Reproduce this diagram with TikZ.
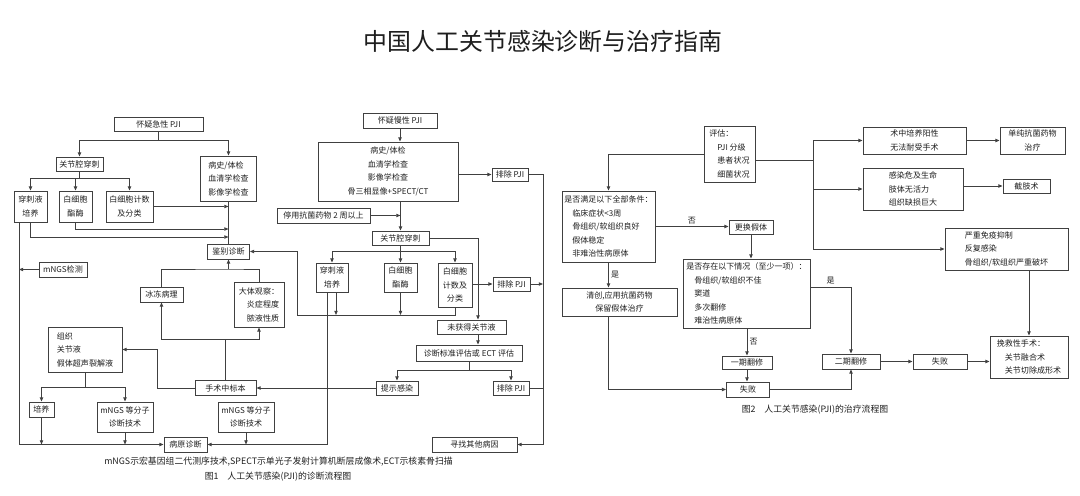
\documentclass[tikz,border=0pt]{standalone}
\usepackage{fontspec}
\setmainfont{Noto Sans CJK SC}
\usetikzlibrary{arrows.meta,calc}
\definecolor{ink}{HTML}{1E1E1E}
\definecolor{wire}{HTML}{404040}
\newcommand{\boxfont}{\fontsize{5.7}{9.6}\selectfont}
\newcommand{\capfont}{\fontsize{6.3}{8}\selectfont}

\begin{document}
\begin{tikzpicture}[x=0.025cm,y=-0.025cm,
  every node/.style={text=ink},
  box/.style={draw=wire,line width=.6pt,inner sep=1pt,font=\boxfont,align=center},
  wh/.style 2 args={minimum width=#1*0.025cm,minimum height=#2*0.025cm},
  link/.style={draw=wire,line width=.6pt},
  arr/.style={link,-{Triangle[length=3pt,width=2.4pt]}},
  lbl/.style={font=\boxfont,inner sep=1.5pt}]
\useasboundingbox (0,0) rectangle (1080,495);
\node[font=\fontsize{17}{20}\selectfont] (title) at (543,41) {中国人工关节感染诊断与治疗指南};
% acute PJI
\node[box,wh={89}{14}] (apji) at (158.5,124) {怀疑急性 PJI};
\node[box,wh={47}{14}] (apunc) at (79.5,164) {关节腔穿刺};
\node[box,wh={56}{45},align=left] (ahist) at (228.5,178.5) {病史/体检\\血清学检查\\影像学检查};
\node[box,wh={33}{31}] (aculture) at (30.5,206.5) {穿刺液\\培养};
\node[box,wh={33}{31}] (aleuk) at (75.5,206.5) {白细胞\\酯酶};
\node[box,wh={47}{31}] (acount) at (129.5,206.5) {白细胞计数\\及分类};
\node[box,wh={42}{15}] (diff) at (228.5,251.5) {鉴别诊断};
\node[box,wh={48}{15}] (mngs) at (63,269.5) {mNGS检测};
\node[box,wh={43}{15}] (frozen) at (161.5,294.5) {冰冻病理};
\node[box,wh={50}{45},align=left] (gross) at (259,304.5) {大体观察：\\\hspace*{1em}炎症程度\\\hspace*{1em}脓液性质};
\node[box,wh={74}{45},align=left] (tissue) at (85,349.5) {组织\\关节液\\假体超声裂解液};
\node[box,wh={61}{15}] (sample) at (225.5,388) {手术中标本};
\node[box,wh={25}{15}] (culture) at (41.5,409.5) {培养};
\node[box,wh={56}{30}] (molA) at (125,417) {mNGS 等分子\\诊断技术};
\node[box,wh={56}{30}] (molB) at (246,417) {mNGS 等分子\\诊断技术};
\node[box,wh={43}{15}] (patho) at (185.5,444.5) {病原诊断};
% chronic PJI
\node[box,wh={74}{15}] (cpji) at (400,120.5) {怀疑慢性 PJI};
\node[box,wh={140}{59}] (chist) at (388,171.5) {病史/体检\\血清学检查\\影像学检查\\骨三相显像+SPECT/CT};
\node[box,wh={93}{15}] (stop) at (323.5,215.5) {停用抗菌药物 2 周以上};
\node[box,wh={57}{14}] (cpunc) at (400.5,238) {关节腔穿刺};
\node[box,wh={32}{29}] (cculture) at (332,277.5) {穿刺液\\培养};
\node[box,wh={33}{29}] (cleuk) at (400.5,277.5) {白细胞\\酯酶};
\node[box,wh={34}{44}] (ccount) at (455,285) {白细胞\\计数及\\分类};
\node[box,wh={36}{13}] (excA) at (510,174.5) {排除 PJI};
\node[box,wh={37}{14}] (excB) at (511.5,284) {排除 PJI};
\node[box,wh={69}{14}] (nofluid) at (471.5,327) {未获得关节液};
\node[box,wh={106}{16}] (crit) at (469,353) {诊断标准评估或 ECT 评估};
\node[box,wh={42}{14}] (infect) at (397,388) {提示感染};
\node[box,wh={36}{14}] (excC) at (511,388) {排除 PJI};
\node[box,wh={85}{15}] (other) at (474.5,444.5) {寻找其他病因};
\node[font=\capfont] (note) at (278.5,462) {mNGS示宏基因组二代测序技术,SPECT示单光子发射计算机断层成像术,ECT示核素骨扫描};
\node[font=\capfont] (capA) at (278,477) {图1\quad 人工关节感染(PJI)的诊断流程图};
% acute connectors
\coordinate (aFork) at (158.5,140);
\draw[link] (apji.south) -- (aFork);
\draw[arr] (aFork) -| (apunc.north);
\draw[arr] (aFork) -| (ahist.north);
\coordinate (aFork2) at (79.5,178);
\draw[link] (apunc.south) -- (aFork2);
\draw[arr] (aFork2) -| (aculture.north);
\draw[arr] (aFork2) -| (aleuk.north);
\draw[arr] (aFork2) -| (acount.north);
\draw[link] (ahist.south) -- (diff.north);
\draw[arr] (acount.east) -- (acount.east -| diff.north);
\coordinate (aJoin1) at (228.5,229);
\coordinate (aJoin2) at (228.5,237);
\draw[arr] (aleuk.south) |- (aJoin1);
\draw[arr] (aculture.south) |- (aJoin2);
\coordinate (lRail) at (19,0);
\draw[arr] (lRail |- aculture.south) |- (patho.west);
\draw[arr] (mngs.west) -- (mngs.west -| lRail);
\coordinate (gTop) at (228.5,269);
\draw[link] (frozen.north) |- (gTop) -| (gross.north);
\draw[arr] (gTop) -- (diff.south);
\coordinate (sTop) at (225.5,339);
\draw[link] (sample.north) -- (sTop);
\draw[arr] (sTop) -| (frozen.south);
\draw[arr] (sTop) -| (gross.south);
\coordinate (sBend) at (157,0);
\draw[arr] (sample.west) -| (sBend |- tissue.east) -- (tissue.east);
\coordinate (tFork) at (85,387);
\draw[link] (tissue.south) -- (tFork);
\draw[arr] (tFork) -| (culture.north);
\draw[arr] (tFork) -| (molA.north);
\draw[arr] (culture.south) -- (culture.south |- patho.west);
\draw[arr] (molA.south) -- (molA.south |- patho.west);
\draw[arr] (molB.south) -- (molB.south |- patho.east);
\draw[arr] (infect.west) -- (sample.east);
% chronic connectors
\draw[arr] (cpji.south) -- (cpji.south |- chist.north);
\draw[arr] (cpunc.north |- chist.south) -- (cpunc.north);
\draw[arr] (stop.east) -- (stop.east -| cpunc.north);
\draw[arr] (excA.west -| chist.east) -- (excA.west);
\coordinate (cFork) at (400.5,251);
\draw[link] (cpunc.south) -- (cFork);
\draw[arr] (cFork) -| (cculture.north);
\draw[arr] (cFork) -| (cleuk.north);
\draw[arr] (cFork) -| (ccount.north);
\coordinate (cJoin) at (297,315);
\draw[arr] (ccount.south) |- (cJoin) |- (diff.east);
\coordinate (ccA) at ($(cculture.south)+(4,0)$);
\coordinate (ccB) at ($(cculture.south)+(-5,0)$);
\draw[arr] (ccA) -- (ccA |- cJoin);
\draw[arr] (cleuk.south) -- (cleuk.south |- cJoin);
\draw[arr] (ccB) |- (patho.east);
\coordinate (cDrop) at (478,0);
\draw[arr] (cpunc.east) -| (cDrop |- nofluid.north);
\draw[arr] (cDrop |- nofluid.south) -- (cDrop |- crit.north);
\draw[arr] (ccount.east |- excB.west) -- (excB.west);
\coordinate (cFork2) at (469,370);
\draw[link] (crit.south) -- (cFork2);
\draw[arr] (cFork2) -| (infect.north);
\draw[arr] (cFork2) -| (excC.north);
\coordinate (rRail) at (543,0);
\draw[arr] (excA.east) -| (rRail |- other.east) -- (other.east);
\draw[arr] (excB.east) -- (excB.east -| rRail);
\draw[link] (excC.east) -- (excC.east -| rRail);
% treatment
\node[box,wh={51}{56},align=left] (assess) at (729.5,154) {评估：\\\hspace*{1em}PJI 分级\\\hspace*{1em}患者状况\\\hspace*{1em}细菌状况};
\node[box,wh={93}{71},align=left] (keep) at (608.5,226.5) {是否满足以下全部条件：\\\hspace*{1em}临床症状<3周\\\hspace*{1em}骨组织/软组织良好\\\hspace*{1em}假体稳定\\\hspace*{1em}非难治性病原体};
\node[box,wh={115}{28}] (debride) at (619.5,302) {清创,应用抗菌药物\\保留假体治疗};
\node[box,wh={44}{14}] (swap) at (751,227) {更换假体};
\node[box,wh={127}{69},align=left] (risk) at (746.5,293.5) {是否存在以下情况（至少一项）：\\\hspace*{1em}骨组织/软组织不佳\\\hspace*{1em}窦道\\\hspace*{1em}多次翻修\\\hspace*{1em}难治性病原体};
\node[box,wh={50}{13}] (oneStage) at (747,362.5) {一期翻修};
\node[box,wh={43}{15}] (failA) at (748,389.5) {失败};
\node[box,wh={58}{15}] (twoStage) at (851,361.5) {二期翻修};
\node[box,wh={54}{15}] (failB) at (940,361.5) {失败};
\node[box,wh={78}{42},align=left] (salvage) at (1029,357) {挽救性手术：\\\hspace*{1em}关节融合术\\\hspace*{1em}关节切除成形术};
\node[box,wh={103}{27},align=left] (culpos) at (914.5,140.5) {术中培养阳性\\无法耐受手术};
\node[box,wh={65}{27}] (abx) at (1032.5,140.5) {单纯抗菌药物\\治疗};
\node[box,wh={100}{42},align=left] (lethal) at (913,189) {感染危及生命\\肢体无活力\\组织缺损巨大};
\node[box,wh={47}{14}] (amput) at (1026.5,186) {截肢术};
\node[box,wh={123}{42},align=left] (severe) at (1006.5,249) {严重免疫抑制\\反复感染\\骨组织/软组织严重破坏};
\node[font=\capfont] (capB) at (815,410) {图2\quad 人工关节感染(PJI)的治疗流程图};
% treatment connectors
\draw[arr] (assess.west) -| (keep.north);
\coordinate (tRail) at (813,0);
\coordinate (aOut) at ($(assess.east)+(0,6)$);
\draw[link] (aOut) -- (aOut -| tRail);
\draw[link] (tRail |- culpos.west) -- (tRail |- severe.west);
\draw[arr] (tRail |- culpos.west) -- (culpos.west);
\draw[arr] (tRail |- lethal.west) -- (lethal.west);
\draw[arr] (tRail |- severe.west) -- (severe.west);
\draw[arr] (culpos.east) -- (abx.west);
\draw[arr] (lethal.east |- amput.west) -- (amput.west);
\draw[arr] (salvage.north |- severe.south) -- (salvage.north);
\draw[arr] (keep.east) -- (keep.east -| swap.west) node[lbl,midway,above] (noA) {否};
\draw[arr] (swap.south) -- (swap.south |- risk.north);
\draw[arr] (keep.south) -- (keep.south |- debride.north) node[lbl,midway,right] (yesA) {是};
\draw[arr] (keep.south |- debride.south) |- (failA.west);
\draw[arr] (oneStage.north |- risk.south) -- (oneStage.north) node[lbl,midway,right] (noB) {否};
\draw[arr] (oneStage.south) -- (oneStage.south |- failA.north);
\coordinate (rOut) at ($(risk.east)+(0,-6.5)$);
\draw[arr] (rOut) -| (twoStage.north) node[lbl,pos=.25,above] (yesB) {是};
\draw[arr] (failA.east) -| (twoStage.south);
\draw[arr] (twoStage.east) -- (failB.west);
\draw[arr] (failB.east) -- (failB.east -| salvage.west);
\end{tikzpicture}
\end{document}
